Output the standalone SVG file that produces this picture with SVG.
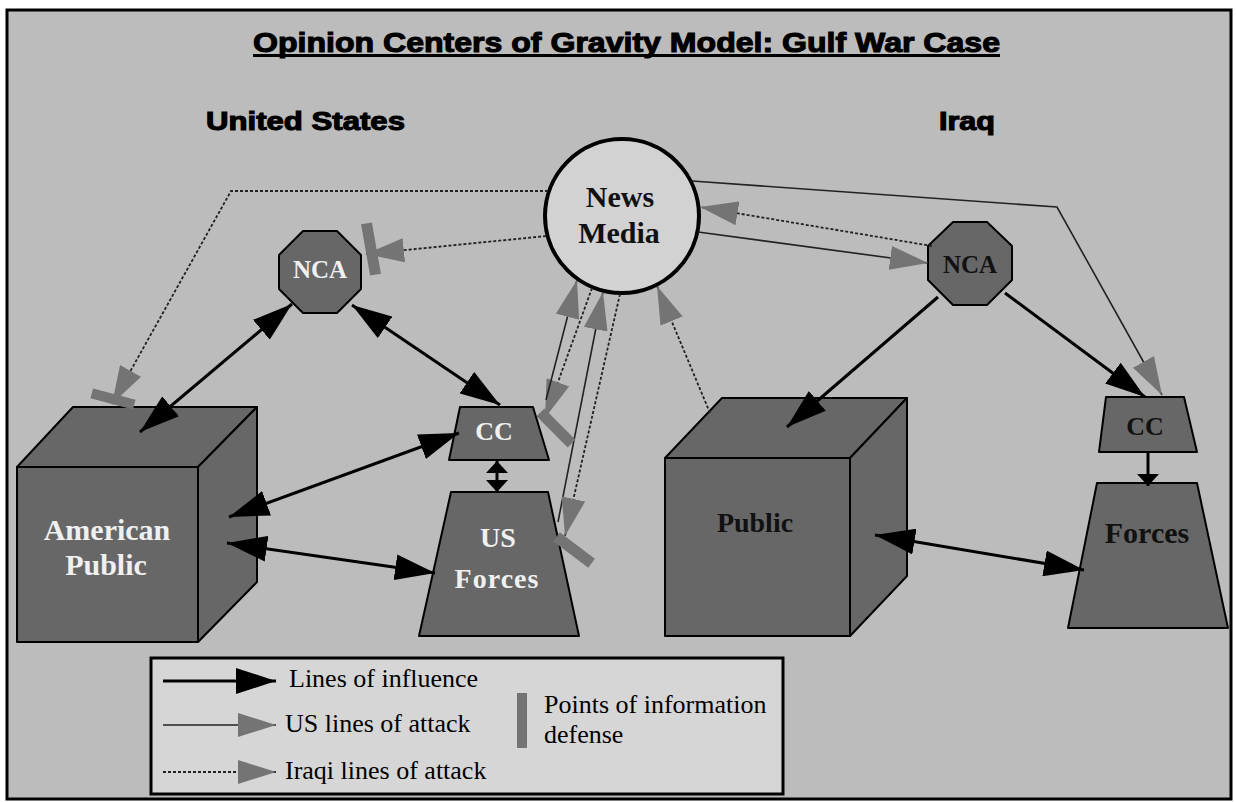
<svg xmlns="http://www.w3.org/2000/svg" width="1236" height="802" viewBox="0 0 1236 802">
<defs>
<style>
.frame{fill:#bcbcbc;stroke:#000;stroke-width:3}
.node{fill:#676767;stroke:#000;stroke-width:2;stroke-linejoin:round}
.hd{font-family:"Liberation Sans",Arial,sans-serif;font-weight:bold;fill:#000;stroke:#000;stroke-width:1.1}
.lblW{font-family:"Liberation Serif","Times New Roman",serif;font-weight:bold;fill:#f0f0f0;text-anchor:middle}
.lblD{font-family:"Liberation Serif","Times New Roman",serif;font-weight:bold;fill:#111;text-anchor:middle}
.leg{font-family:"Liberation Serif","Times New Roman",serif;font-size:26px;fill:#000}
.inf{stroke:#000;stroke-width:3;fill:none}
.us{stroke:#222;stroke-width:1.6;fill:none}
.iq{stroke:#222;stroke-width:1.8;fill:none;stroke-dasharray:3 2}
.def{fill:#747474}
</style>
<marker id="blk" viewBox="0 0 40 26" refX="40" refY="13" markerWidth="40" markerHeight="26" markerUnits="userSpaceOnUse" orient="auto-start-reverse"><path d="M0,0 L40,13 L0,26 z" fill="#000"/></marker>
<marker id="blkS" viewBox="0 0 12 22" refX="12" refY="11" markerWidth="12" markerHeight="22" markerUnits="userSpaceOnUse" orient="auto-start-reverse"><path d="M0,0 L12,11 L0,22 z" fill="#000"/></marker>
<marker id="gry" viewBox="0 0 38 24" refX="38" refY="12" markerWidth="38" markerHeight="24" markerUnits="userSpaceOnUse" orient="auto"><path d="M0,0 L38,12 L0,24 z" fill="#747474"/></marker>
</defs>

<rect class="frame" x="7" y="10" width="1224" height="789"/>

<g id="title">
<text class="hd" x="253" y="52" font-size="28" textLength="747" lengthAdjust="spacingAndGlyphs">Opinion Centers of Gravity Model: Gulf War Case</text>
<rect x="253" y="54" width="747" height="3" fill="#000"/>
</g>
<g id="headings">
<text class="hd" x="206" y="130" font-size="25" textLength="199" lengthAdjust="spacingAndGlyphs">United States</text>
<text class="hd" x="939" y="130" font-size="25" textLength="56" lengthAdjust="spacingAndGlyphs">Iraq</text>
</g>

<g id="news-media">
<circle cx="622" cy="216" r="77" fill="#d2d2d2" stroke="#000" stroke-width="4"/>
<text class="lblD" x="620" y="207" font-size="30">News</text>
<text class="lblD" x="619" y="243" font-size="30">Media</text>
</g>

<g id="us-nca">
<polygon class="node" points="303,231 337,231 361,255 361,289 337,313 303,313 279,289 279,255"/>
<text class="lblW" x="320" y="278" font-size="25">NCA</text>
</g>

<g id="american-public">
<polygon class="node" points="17,467 73,407 257,407 198,467"/>
<polygon class="node" points="198,467 257,407 257,582 198,642"/>
<rect class="node" x="17" y="467" width="181" height="175"/>
<text class="lblW" x="107" y="540" font-size="30">American</text>
<text class="lblW" x="106" y="575" font-size="30">Public</text>
</g>

<g id="us-cc">
<polygon class="node" points="460,407 533,407 549,460 449,460"/>
<text class="lblW" x="494" y="440" font-size="26">CC</text>
</g>

<g id="us-forces">
<polygon class="node" points="451,492 548,492 579,636 419,636"/>
<text class="lblW" x="498" y="547" font-size="28">US</text>
<text class="lblW" x="497" y="588" font-size="28" letter-spacing="1">Forces</text>
</g>

<g id="iraq-nca">
<polygon class="node" points="953,222 987,222 1012,246 1012,280 987,305 953,305 928,280 928,246"/>
<text class="lblD" x="970" y="273" font-size="25">NCA</text>
</g>

<g id="iraq-public">
<polygon class="node" points="665,458 722,398 907,398 850,458"/>
<polygon class="node" points="850,458 907,398 907,576 850,636"/>
<rect class="node" x="665" y="458" width="185" height="178"/>
<text class="lblD" x="755" y="532" font-size="28">Public</text>
</g>

<g id="iraq-cc">
<polygon class="node" points="1106,397 1184,397 1197,452 1099,452"/>
<text class="lblD" x="1145" y="435" font-size="26">CC</text>
</g>

<g id="iraq-forces">
<polygon class="node" points="1097,483 1197,483 1228,628 1068,628"/>
<text class="lblD" x="1147" y="543" font-size="30">Forces</text>
</g>

<g id="connectors">
<line class="inf" x1="140" y1="432" x2="292" y2="304" marker-start="url(#blk)" marker-end="url(#blk)"/>
<line class="inf" x1="352" y1="305" x2="500" y2="405" marker-start="url(#blk)" marker-end="url(#blk)"/>
<line class="inf" x1="229" y1="517" x2="459" y2="433" marker-start="url(#blk)" marker-end="url(#blk)"/>
<line class="inf" x1="227" y1="543" x2="435" y2="573" marker-start="url(#blk)" marker-end="url(#blk)"/>
<line class="inf" stroke-width="2.5" x1="497" y1="461" x2="497" y2="492" marker-start="url(#blkS)" marker-end="url(#blkS)"/>
<line class="inf" x1="938" y1="297" x2="787" y2="427" marker-end="url(#blk)"/>
<line class="inf" x1="1005" y1="293" x2="1145" y2="397" marker-end="url(#blk)"/>
<line class="inf" stroke-width="2.5" x1="1148" y1="452" x2="1148" y2="486" marker-end="url(#blkS)"/>
<line class="inf" x1="875" y1="535" x2="1084" y2="570" marker-start="url(#blk)" marker-end="url(#blk)"/>
<polyline class="iq" points="548,191 231,191 112,404" marker-end="url(#gry)"/>
<polyline class="us" points="692,181 1057,207 1162,395" marker-end="url(#gry)"/>
<line class="iq" x1="546" y1="236" x2="366" y2="254" marker-end="url(#gry)"/>
<line class="iq" x1="932" y1="246" x2="700" y2="207" marker-end="url(#gry)"/>
<line class="us" x1="698" y1="232" x2="928" y2="263" marker-end="url(#gry)"/>
<line class="iq" x1="710" y1="413" x2="657" y2="286" marker-end="url(#gry)"/>
<line class="iq" x1="592" y1="288" x2="545" y2="418" marker-end="url(#gry)"/>
<line class="us" x1="546" y1="400" x2="577" y2="280" marker-end="url(#gry)"/>
<line class="us" x1="558" y1="522" x2="603" y2="292" marker-end="url(#gry)"/>
<line class="iq" x1="620" y1="294" x2="565" y2="536" marker-end="url(#gry)"/>
<rect class="def" x="-5.5" y="-26" width="11" height="52" transform="translate(371,249) rotate(-10)"/>
<rect class="def" x="-5.5" y="-22" width="11" height="44" transform="translate(556,428) rotate(-45)"/>
<rect class="def" x="-5.5" y="-22" width="11" height="44" transform="translate(574,550) rotate(-53)"/>
<rect class="def" x="-5" y="-22" width="10" height="44" transform="translate(113,399) rotate(-75)"/>
</g>

<g id="legend">
<rect x="151" y="658" width="632" height="136" fill="#d6d6d6" stroke="#000" stroke-width="3"/>
<line class="inf" stroke-width="2.5" x1="163" y1="681" x2="276" y2="681" marker-end="url(#blk)"/>
<text class="leg" x="289" y="687">Lines of influence</text>
<line class="us" x1="163" y1="725" x2="276" y2="725" marker-end="url(#gry)"/>
<text class="leg" x="285" y="732">US lines of attack</text>
<line class="iq" x1="163" y1="772" x2="276" y2="772" marker-end="url(#gry)"/>
<text class="leg" x="285" y="779">Iraqi lines of attack</text>
<rect class="def" x="517" y="693" width="10" height="55"/>
<text class="leg" x="544" y="713">Points of information</text>
<text class="leg" x="544" y="743">defense</text>
</g>
</svg>
